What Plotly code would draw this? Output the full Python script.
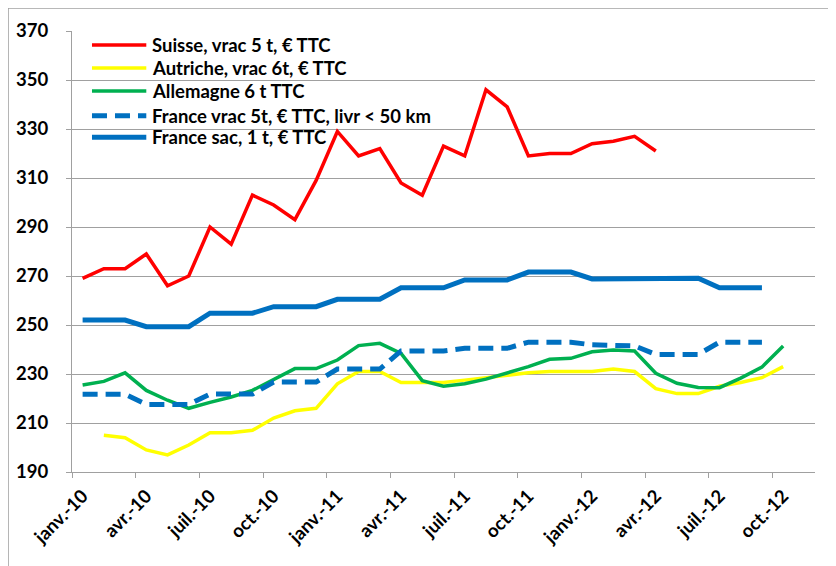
import plotly.graph_objects as go

month_names = ["janv.", "févr.", "mars", "avr.", "mai", "juin",
               "juil.", "août", "sept.", "oct.", "nov.", "déc."]
years = ["10", "11", "12"]
months = [f"{m}-{y}" for y in years for m in month_names][:35]  # janv.-10 .. nov.-12

suisse = [269, 273, 273, 279, 266, 270, 290, 283, 303, 299, 293, 309,
          329, 319, 322, 308, 303, 323, 319, 346, 339, 319, 320, 320,
          324, 325, 327, 321] + [None] * 7
autriche = [None, 205, 204, 199, 197, 201, 206, 206, 207, 212, 215, 216,
            226, 231, 231, 226.5, 226.5, 226.5, 227.5, 228.5, 229.5, 230.5, 231, 231,
            231, 232, 231, 224, 222, 222, 225, 226.5, 228.5, 233, None]
allemagne = [225.5, 227, 230.5, 223.3, 219.3, 216, 218.4, 220.6, 223.3, 227.8, 232.2, 232.2,
             235.7, 241.6, 242.5, 238.4, 227.3, 225, 226, 227.9, 230.3, 233, 236, 236.4,
             239.1, 239.8, 239.4, 230.3, 226.2, 224.5, 224.4, 228.3, 232.8, 241.4, None]
france_vrac = [221.7, 221.7, 221.7, 217.6, 217.6, 217.6, 221.8, 221.8, 221.8, 226.7, 226.7, 226.7,
               232, 232, 232, 239.4, 239.4, 239.4, 240.5, 240.5, 240.5, 243, 243, 243,
               241.9, 241.5, 241.5, 238, 238, 238, 243, 243, 243, None, None]
france_sac = [252, 252, 252, 249.3, 249.3, 249.3, 254.8, 254.8, 254.8, 257.5, 257.5, 257.5,
              260.5, 260.5, 260.5, 265.2, 265.2, 265.2, 268.4, 268.4, 268.4, 271.6, 271.6, 271.6,
              268.8, 268.8, 268.8, 269.1, 269.1, 269.1, 265.2, 265.2, 265.2, None, None]

series_names = ["Suisse, vrac 5 t, € TTC", "Autriche, vrac 6t, € TTC", "Allemagne 6 t TTC",
                "France vrac 5t, € TTC, livr < 50 km", "France sac, 1 t, € TTC"]
series_values = [suisse, autriche, allemagne, france_vrac, france_sac]
series_colors = ["#FF0000", "#FFFF00", "#00B050", "#0070C0", "#0070C0"]
series_widths = [3.5, 3.5, 3.5, 5, 5]
series_dash = ["solid", "solid", "solid", "15px,8px", "solid"]

x = list(range(len(months)))
FONT = "Lato"

fig = go.Figure()
for name, vals, color, w, dash in zip(series_names, series_values, series_colors,
                                      series_widths, series_dash):
    fig.add_trace(go.Scatter(
        x=x, y=vals, name=name, mode="lines",
        line=dict(color=color, width=w, dash=dash),
        connectgaps=False, showlegend=False,
    ))

label_idx = list(range(0, len(months), 3))
boundaries = [i - 0.5 for i in range(0, len(months) + 1, 3)]

fig.update_layout(
    width=828, height=558,
    margin=dict(l=64, r=21, t=23, b=94),
    paper_bgcolor="white", plot_bgcolor="white",
    font=dict(family=FONT, size=18, color="black", weight="bold"),
    showlegend=False,
    xaxis=dict(
        range=[-0.5, len(months) - 0.5],
        tickmode="array", tickvals=label_idx, ticktext=[months[i] for i in label_idx],
        tickangle=-45, ticks="", showgrid=False, zeroline=False,
        showline=True, linecolor="#A0A0A0", linewidth=1,
        minor=dict(tickmode="array", tickvals=boundaries, ticks="outside",
                   ticklen=5, tickcolor="#A0A0A0", showgrid=False),
        tickfont=dict(family=FONT, size=18.5, weight="bold"),
        ticklabelstandoff=5,
        automargin=False,
    ),
    yaxis=dict(
        range=[190, 370], dtick=20, tick0=190,
        showgrid=True, gridcolor="#A0A0A0", gridwidth=1.2, zeroline=False,
        showline=True, linecolor="#A0A0A0", linewidth=1,
        ticks="outside", ticklen=5, tickcolor="#A0A0A0",
        ticklabelstandoff=14,
        tickfont=dict(family=FONT, size=18.5, weight="bold"),
        automargin=False,
    ),
)

# legend drawn in the upper-left corner of the plot (paper coordinates)
leg_x0, leg_x1, leg_tx = 0.0269, 0.1000, 0.1050
leg_rows = [0.9683, 0.9161, 0.8640, 0.8080, 0.7590]
for name, color, w, dash, yy in zip(series_names, series_colors, series_widths,
                                    series_dash, leg_rows):
    fig.add_shape(type="line", xref="paper", yref="paper",
                  x0=leg_x0, x1=leg_x1, y0=yy, y1=yy,
                  line=dict(color=color, width=w, dash=dash))
    fig.add_annotation(xref="paper", yref="paper", x=leg_tx, y=yy,
                       xanchor="left", yanchor="middle", showarrow=False,
                       text=name, font=dict(family=FONT, size=18.5, weight="bold",
                                            color="black"))

# outer chart-area border (left and top edges visible)
fig.add_shape(type="line", xref="paper", yref="paper",
              x0=-0.0861, x1=2, y0=1.052, y1=1.052,
              line=dict(color="#A0A0A0", width=1.5))
fig.add_shape(type="line", xref="paper", yref="paper",
              x0=-0.0861, x1=-0.0861, y0=-1, y1=1.052,
              line=dict(color="#A0A0A0", width=1.5))

fig.write_html("out.html")
